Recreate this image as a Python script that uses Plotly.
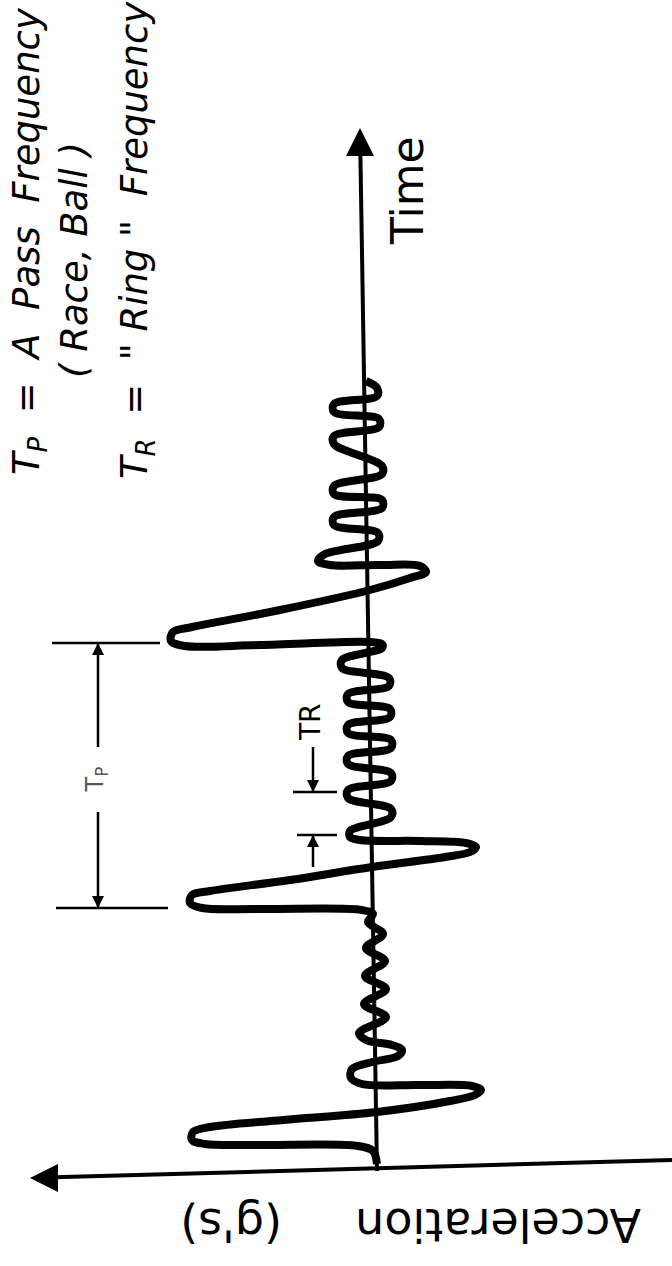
import plotly.graph_objects as go

# ---- data (time runs upward, acceleration positive to the left) ----
time_ms = [0.1, 1.4, 1.9, 2.0, 2.1, 2.5, 3.3, 3.8, 4.5, 5.3, 6.4, 7.0, 7.5, 7.9, 8.0, 8.1,
           8.7, 9.6, 10.3, 10.9, 11.5, 12.0, 12.5, 13.2, 14.8, 16.1, 17.6, 18.9, 20.4, 21.7,
           23.1, 24.3, 25.1,
           25.5, 25.6, 25.7, 26.2, 27.0, 27.4, 28.5, 29.8, 30.8, 31.3, 31.8, 32.2, 32.4, 32.5,
           32.8, 33.4,
           34.8, 35.6, 36.7, 37.5, 38.4, 39.2, 40.1, 40.9, 41.7, 42.5, 43.2, 44.0, 44.8, 45.6,
           46.3, 47.1, 47.9, 48.7, 49.7, 50.5, 51.7, 52.1,
           52.3, 52.0, 51.9, 52.4, 53.3, 53.8, 55.5, 57.5, 58.7, 59.3, 59.9, 60.0, 60.0, 60.4,
           61.1, 62.4, 63.2, 64.0, 64.8, 65.7, 66.5, 67.1, 67.9, 69.1, 69.9, 72.1, 72.9,
           73.8, 74.6, 75.3, 76.1, 76.9, 77.7, 78.4]
accel_g = [-0.1, 0.3, 1.8, 11.6, 17.1, 18.4, 18.3, 16.6, 9.3, -0.1, -7.4, -9.9, -10.5, -9.6,
           -4.4, 1.4, 2.5, 2.4, 0.4, -2.2, -2.6, -1.6, 1.0, 1.7, -1.0, 1.2, -1.0, 1.1, -0.9,
           1.0, -0.7, 0.8, 0.3,
           1.4, 11.6, 17.4, 18.6, 18.4, 16.6, 8.6, 0.4, -6.9, -9.4, -10.0, -9.0, -4.4, 1.6,
           2.6, 2.6,
           -1.5, -1.5, 2.8, 2.8, -1.5, -1.5, 2.8, 2.8, -1.5, -1.5, 2.8, 2.8, -1.4, -1.4,
           2.8, 2.8, -1.3, -1.3, 3.4, 3.4, -0.6, -0.6,
           0.6, 11.6, 19.1, 20.5, 20.3, 18.4, 9.6, 0.6, -3.4, -5.0, -4.4, -0.4, 4.6, 5.8,
           5.1, -0.2, -0.2, 4.2, 4.2, -0.6, -0.6, 4.2, 4.2, -0.6, -0.6, 4.2, 4.2,
           -0.3, -0.3, 4.2, 4.2, -0.1, -0.1, 1.0]

tp_marks = [25.7, 52.2]      # pass period T_P (start, end)
tr_marks = [33.0, 37.3]      # ring period T_R (start, end)
time_axis_t = [-0.6, 103.7]  # time axis extent (arrow tip at end)
time_axis_a = [-0.1, 1.6]
accel_axis_a = [34.6, -29.6] # acceleration axis extent (arrow tip at first)
accel_axis_t = [-1.3, 0.5]

W, H = 672, 1266
INK = "black"

fig = go.Figure()

# waveform
fig.add_trace(go.Scatter(
    x=accel_g, y=time_ms, mode="lines",
    line=dict(color=INK, width=8, shape="spline", smoothing=1.0),
    hoverinfo="skip"))

# time axis
fig.add_trace(go.Scatter(
    x=[time_axis_a[0], time_axis_a[1] - 0.02], y=[time_axis_t[0], time_axis_t[1] - 1.5],
    mode="lines", line=dict(color=INK, width=4), hoverinfo="skip"))
fig.add_trace(go.Scatter(
    x=[time_axis_a[1]], y=[time_axis_t[1]], mode="markers",
    marker=dict(symbol="arrow-up", size=28, color=INK), hoverinfo="skip"))

# acceleration axis
fig.add_trace(go.Scatter(
    x=[accel_axis_a[0] - 1.5, accel_axis_a[1]], y=[accel_axis_t[0] + 0.04, accel_axis_t[1]],
    mode="lines", line=dict(color=INK, width=4), hoverinfo="skip"))
fig.add_trace(go.Scatter(
    x=[accel_axis_a[0]], y=[accel_axis_t[0]], mode="markers",
    marker=dict(symbol="arrow-left", size=28, color=INK), hoverinfo="skip"))

# T_P dimension bracket
tp_a = 27.8
tp_gap = [35.3, 41.8]
bx = [32.0, 20.8, None, 32.4, 21.6, None, tp_a, tp_a, None, tp_a, tp_a]
by = [tp_marks[0], tp_marks[0], None, tp_marks[1], tp_marks[1], None,
      tp_marks[0], tp_gap[0], None, tp_gap[1], tp_marks[1]]
# T_R dimension bracket
tr_a = 6.3
bx += [None, 7.9, 3.9, None, 8.3, 3.9, None, tr_a, tr_a, None, tr_a, tr_a]
by += [None, tr_marks[0], tr_marks[0], None, tr_marks[1], tr_marks[1], None,
       tr_marks[0] - 3.2, tr_marks[0], None, tr_marks[1], tr_marks[1] + 4.5]
fig.add_trace(go.Scatter(x=bx, y=by, mode="lines",
                         line=dict(color=INK, width=2.5), hoverinfo="skip"))
fig.add_trace(go.Scatter(
    x=[tp_a, tp_a, tr_a, tr_a],
    y=[tp_marks[1], tp_marks[0], tr_marks[0], tr_marks[1]],
    mode="markers",
    marker=dict(symbol=["arrow-up", "arrow-down", "arrow-up", "arrow-down"],
                size=12, color=INK), hoverinfo="skip"))


def px(x):
    return x / W


def py(y):
    return 1 - y / H


NB = "\u00a0"
ann = []
# legend text (italic, rotated)
ann.append(dict(text="<i>T<sub>P</sub>" + NB * 2 + "=" + NB * 2 + "A" + NB * 2 + "Pass" + NB * 2 + "Frequency</i>",
                x=px(29), y=py(241), font=dict(size=37)))
ann.append(dict(text="<i>(" + NB + "Race," + NB + "Ball" + NB + ")</i>",
                x=px(74), y=py(260), font=dict(size=37)))
ann.append(dict(text="<i>T<sub>R</sub>" + NB * 2 + "=" + NB * 2 + "\"" + NB + "Ring" + NB + "\"" + NB * 2 + "Frequency</i>",
                x=px(137), y=py(240), font=dict(size=37)))
for a in ann:
    a.update(textangle=-90)
ann.append(dict(text="Time", x=px(408), y=py(190), textangle=-90, font=dict(size=44)))
ann.append(dict(text="Acceleration", x=px(498), y=py(1225), textangle=180, font=dict(size=46)))
ann.append(dict(text="(g's)", x=px(231), y=py(1225), textangle=180, font=dict(size=46)))
for a in ann:
    a.update(xref="paper", yref="paper", showarrow=False, xanchor="center", yanchor="middle")
    a["font"].update(family="DejaVu Sans", color=INK)

ann.append(dict(text="T<sub>P</sub>", x=tp_a + 0.2, y=sum(tp_gap) / 2, xref="x", yref="y",
                textangle=-90, showarrow=False, font=dict(family="DejaVu Sans", size=24, color="#555")))
ann.append(dict(text="TR", x=6.6, y=44.3, xref="x", yref="y",
                textangle=-90, showarrow=False, font=dict(family="DejaVu Sans", size=28, color=INK)))

fig.update_layout(
    width=W, height=H, margin=dict(l=0, r=0, t=0, b=0),
    paper_bgcolor="white", plot_bgcolor="white", showlegend=False,
    xaxis=dict(range=[37.6, -29.6], visible=False, fixedrange=True),
    yaxis=dict(range=[-10.1, 116.5], visible=False, fixedrange=True),
    annotations=ann)

fig.write_html("out.html")
